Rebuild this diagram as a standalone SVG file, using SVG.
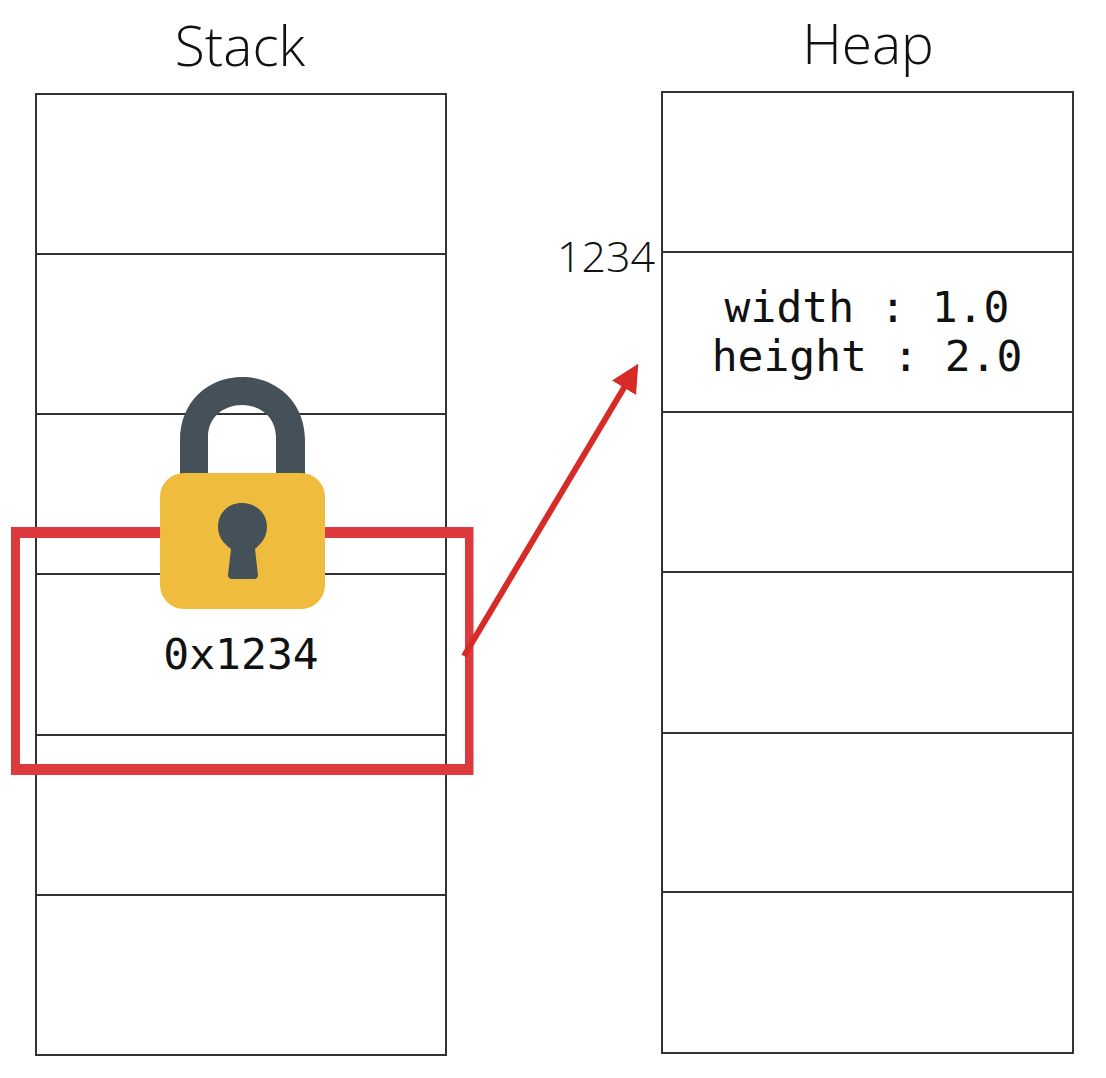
<svg xmlns="http://www.w3.org/2000/svg" width="1106" height="1078" viewBox="0 0 1106 1078">
<style>
.cell{fill:#fff;stroke:#333;stroke-width:2}
.title{font-family:"Open Sans","Noto Sans",sans-serif;font-weight:300;font-size:55px;fill:#111;text-anchor:middle}
.addr{font-size:43px}
.mono{font-family:"DejaVu Sans Mono",monospace;font-size:43px;fill:#111;text-anchor:middle}
</style>
<defs><marker id="ah" markerUnits="userSpaceOnUse" markerWidth="32" markerHeight="32" refX="2" refY="14" orient="auto"><path d="M0 0L28 14L0 28Z" fill="#d62b27"/></marker></defs>
<rect width="1106" height="1078" fill="#fff"/>
<g id="stack">
<rect class="cell" x="36" y="94" width="410" height="961"/>
<path d="M36 254H446M36 414H446M36 574H446M36 735H446M36 895H446" stroke="#333" stroke-width="2" fill="none"/>
<text class="title" x="240" y="66">Stack</text>
<text class="mono" x="241" y="669">0x1234</text>
</g>
<g id="heap">
<rect class="cell" x="662" y="92" width="411" height="961"/>
<path d="M662 252H1073M662 412H1073M662 572H1073M662 733H1073M662 892H1073" stroke="#333" stroke-width="2" fill="none"/>
<text class="title" x="868" y="64">Heap</text>
<text class="title addr" x="606" y="272">1234</text>
<text class="mono" x="867" y="322">width : 1.0</text>
<text class="mono" x="867" y="371">height : 2.0</text>
</g>
<g id="connectors">
<path d="M11 527H473.500V775H11ZM20 538V764H465V538Z" fill="#dc3a3e" fill-rule="evenodd"/>
<path d="M464 656L625 386" stroke="#d62b27" stroke-width="6" fill="none" marker-end="url(#ah)"/>
</g>
<g id="lock">
<path d="M180 480V440C180 402 208 377 242 377C276 377 305 402 305 440V480H276V437C276 417 260 405 242 405C224 405 208 417 208 437V480Z" fill="#455158"/>
<rect x="160" y="473" width="165" height="136" rx="24" fill="#f0bc3e"/>
<path d="M242 503C256 503 267 513 267 527C267 537 261 544 255 549L258 575Q258 579 254 579H232Q228 579 228 575L231 549C224 544 218 537 218 527C218 513 228 503 242 503Z" fill="#455158"/>
</g>
</svg>
